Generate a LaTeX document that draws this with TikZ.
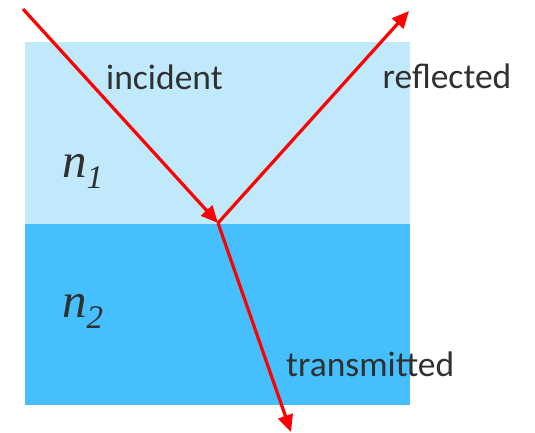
\documentclass[tikz,border=0pt]{standalone}
\usepackage{fontspec}
\setsansfont{Carlito}
\newfontfamily\indexfont{Liberation Serif}
\usetikzlibrary{arrows.meta,positioning}
\definecolor{mediumone}{RGB}{193,233,252}
\definecolor{mediumtwo}{RGB}{70,191,255}
\definecolor{raycol}{RGB}{255,0,0}
\definecolor{labelcol}{RGB}{48,48,48}
\tikzset{
  medium/.style={draw=none, inner sep=0pt, minimum width=385bp, minimum height=181.5bp, anchor=north west},
  ray/.style={-{Triangle[length=17bp, width=15bp]}, draw=raycol, line width=3.2bp},
  raylabel/.style={anchor=base west, inner sep=0pt, text=labelcol, font=\sffamily\fontsize{35.5bp}{40bp}\selectfont},
  indexlabel/.style={anchor=base west, inner sep=0pt, text=labelcol, font=\indexfont\itshape\fontsize{49bp}{52bp}\selectfont}
}
\newcommand{\subidx}[1]{\raisebox{-11bp}{\fontsize{33bp}{34bp}\selectfont #1}}

\begin{document}
\begin{tikzpicture}[x=1bp,y=-1bp]
  \useasboundingbox (0,0) rectangle (535,432);
  \node[medium, fill=mediumone] (upper) at (24.5,42) {};
  \node[medium, fill=mediumtwo, anchor=north west] (lower) at (24.5,223.5) {};

  \node[indexlabel] (nOne) at (62,177) {n\subidx{1}};
  \node[indexlabel] (nTwo) at (62,317) {n\subidx{2}};

  \coordinate (source) at (23,9);
  \coordinate (hit) at (218,223);
  \coordinate (reflEnd) at (409,11);
  \coordinate (transEnd) at (291,432);

  \draw[ray] (source) -- (hit);
  \draw[ray] (hit) -- (reflEnd);
  \draw[ray] (hit) -- (transEnd);

  \node[raylabel] (incident) at (106,89) {incident};
  \node[raylabel] (reflected) at (382.5,88.3) {reflected};
  \node[raylabel] (transmitted) at (286,376) {transmitted};
\end{tikzpicture}
\end{document}
